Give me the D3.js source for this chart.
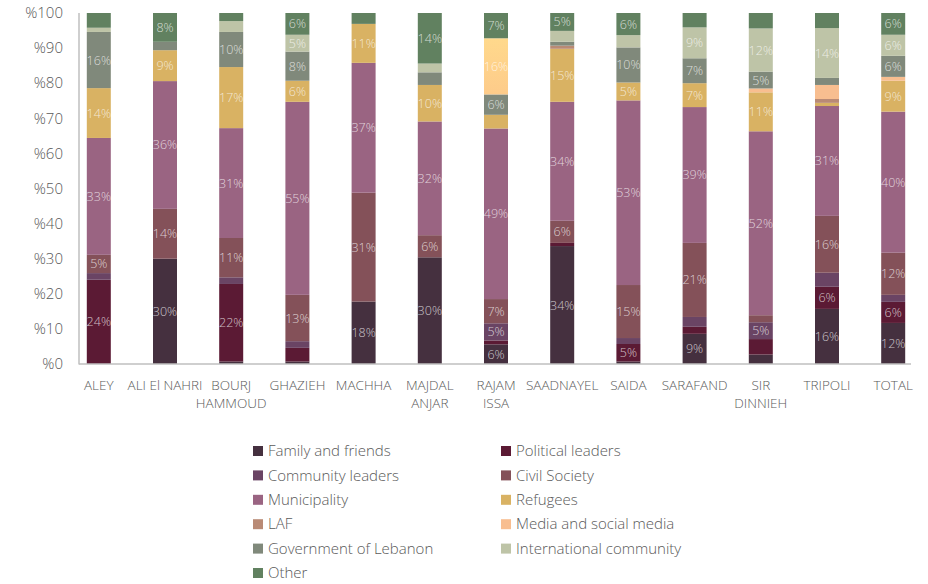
<!DOCTYPE html>
<html>
<head>
<meta charset="utf-8">
<script src="https://cdn.jsdelivr.net/npm/d3@7"></script>
<style>
  html, body { margin: 0; padding: 0; background: #fff; }
  svg { display: block; font-family: "Open Sans", "Noto Sans", sans-serif; }
</style>
</head>
<body>
<svg id="chart" width="928" height="584"></svg>
<script>
// ---------- data ----------
const categories = ["ALEY","ALI El NAHRI","BOURJ HAMMOUD","GHAZIEH","MACHHA","MAJDAL ANJAR","RAJAM ISSA","SAADNAYEL","SAIDA","SARAFAND","SIR DINNIEH","TRIPOLI","TOTAL"];
const categoryLines = [["ALEY"],["ALI El NAHRI"],["BOURJ","HAMMOUD"],["GHAZIEH"],["MACHHA"],["MAJDAL","ANJAR"],["RAJAM","ISSA"],["SAADNAYEL"],["SAIDA"],["SARAFAND"],["SIR","DINNIEH"],["TRIPOLI"],["TOTAL"]];

const seriesNames = ["Family and friends","Political leaders","Community leaders","Civil Society","Municipality","Refugees","LAF","Media and social media","Government of Lebanon","International community","Other"];

const familyFriends   = [0,   30,   0.7, 0.7, 17.8, 30.4, 5.6,  33.6, 0.7,  8.6,  2.7,  15.7, 11.7];
const politicalLeaders= [24,  0,    22.1,3.9, 0,    0,    1.1,  0.9,  5,    2,    4.4,  6.3,  6];
const communityLeaders= [1.9, 0,    1.9, 1.9, 0,    0,    4.9,  0,    1.7,  2.8,  4.8,  4,    2];
const civilSociety    = [5.2, 14.2, 11.2,13.2,31,   6.3,  6.9,  6.3,  15.1, 21.1, 2,    16.2, 12];
const municipality    = [33.3,36.4, 31.3,55,  37,   32.4, 48.6, 33.9, 52.6, 38.7, 52.4, 31.3, 40.2];
const refugees        = [14.2,8.8,  17.4,6,   11.1, 10.4, 3.9,  15.1, 5.1,  6.8,  11.1, 0.9,  8.8];
const laf             = [0,   0,    0,   0,   0,    0,    0,    0.9,  0,    0,    0,    1.1,  0];
const mediaSocial     = [0,   0,    0,   0,   0,    0,    0,    0,    0,    0,    1.1,  4,    1.1];
const government      = [16,  2.4,  10,  8.3, 0,    3.6,  5.8,  1.1,  10,   7.1,  4.8,  2,    6];
const international   = [1.2, 0,    3.1, 4.8, 0,    2.5,  16,   3.1,  3.5,  8.8,  12.3, 14.2, 6];
const other           = [4.2, 8.2,  2.3, 6.2, 3.1,  14.4, 7.2,  5.1,  6.3,  4.1,  4.4,  4.3,  6.2];

const yTicks = [0,10,20,30,40,50,60,70,80,90,100];

// ---------- build table ----------
const seriesValues = [familyFriends, politicalLeaders, communityLeaders, civilSociety, municipality, refugees, laf, mediaSocial, government, international, other];
const table = categories.map((c, i) => {
  const row = { category: c };
  seriesNames.forEach((s, j) => row[s] = seriesValues[j][i]);
  return row;
});

const colors = {
  "Family and friends": "#45303F",
  "Political leaders": "#5B1A34",
  "Community leaders": "#6A4464",
  "Civil Society": "#845159",
  "Municipality": "#9A6482",
  "Refugees": "#D9B263",
  "LAF": "#B98A75",
  "Media and social media": "#F8BE90",
  "Government of Lebanon": "#80897B",
  "International community": "#BEC4A7",
  "Other": "#618160"
};

const svg = d3.select("#chart");
const defs = svg.append("defs");
const grad = defs.append("linearGradient").attr("id","highlightGlow").attr("x1",0).attr("y1",0).attr("x2",0).attr("y2",1);
grad.append("stop").attr("offset","0%").attr("stop-color","#FFD98C");
grad.append("stop").attr("offset","100%").attr("stop-color","#FDCB8A");

// ---------- scales ----------
const step = 66.2;
const x0 = 98.8 - step / 2;
const x = d3.scaleBand()
  .domain(categories)
  .range([x0, x0 + step * categories.length])
  .paddingInner(1 - 24 / step)
  .paddingOuter((1 - 24 / step) / 2);

const y = d3.scaleLinear().domain([0, 100]).range([364, 13]);

const stack = d3.stack().keys(seriesNames);
const stacked = stack(table);

// ---------- bars ----------
const layers = svg.append("g").selectAll("g")
  .data(stacked).join("g")
  .attr("fill", d => colors[d.key]);

layers.selectAll("rect")
  .data(d => d.map(p => ({ key: d.key, p })))
  .join("rect")
  .attr("x", d => x(d.p.data.category))
  .attr("width", x.bandwidth())
  .attr("y", d => y(d.p[1]))
  .attr("height", d => Math.max(0, y(d.p[0]) - y(d.p[1])))
  .attr("fill", d => (d.key === "International community" && d.p.data.category === "RAJAM ISSA") ? "url(#highlightGlow)" : null);

// ---------- value labels ----------
const labelG = svg.append("g")
  .attr("font-size", 12.5)
  .attr("font-weight", 300)
  .attr("text-anchor", "middle")
  .attr("fill", "#ffffff")
  .attr("fill-opacity", 0.72);

stacked.forEach(layer => {
  layer.forEach(p => {
    const v = p[1] - p[0];
    if (v >= 4.5) {
      labelG.append("text")
        .attr("x", x(p.data.category) + x.bandwidth() / 2)
        .attr("y", (y(p[0]) + y(p[1])) / 2)
        .attr("dy", "0.36em")
        .text(Math.round(v) + "%");
    }
  });
});

// ---------- axes ----------
const axisColor = "#BFBFBF";
svg.append("line").attr("x1", 79).attr("x2", 79).attr("y1", y(100)).attr("y2", y(0) + 0.5)
  .attr("stroke", axisColor).attr("stroke-width", 1.5);
svg.append("line").attr("x1", 79).attr("x2", 911).attr("y1", y(0)).attr("y2", y(0))
  .attr("stroke", axisColor).attr("stroke-width", 1.5);

const yAxisG = svg.append("g")
  .attr("font-size", 15)
  .attr("font-weight", 300)
  .attr("fill", "#595959")
  .attr("text-anchor", "end");
yAxisG.selectAll("text").data(yTicks).join("text")
  .attr("x", 63)
  .attr("y", d => y(d))
  .attr("dy", "0.35em")
  .text(d => "%" + d);

const xAxisG = svg.append("g")
  .attr("font-size", 13.5)
  .attr("font-weight", 300)
  .attr("fill", "#595959")
  .attr("text-anchor", "middle");
categories.forEach((c, i) => {
  const t = xAxisG.append("text")
    .attr("x", x(c) + x.bandwidth() / 2)
    .attr("y", 390);
  categoryLines[i].forEach((line, k) => {
    t.append("tspan").attr("x", x(c) + x.bandwidth() / 2).attr("dy", k === 0 ? 0 : 18).text(line);
  });
});

// ---------- legend ----------
const legend = svg.append("g")
  .attr("font-size", 15)
  .attr("font-weight", 300)
  .attr("fill", "#595959");
seriesNames.forEach((s, i) => {
  const col = i % 2, row = Math.floor(i / 2);
  const lx = col === 0 ? 253 : 501;
  const ly = 451 + row * 24.4;
  legend.append("rect").attr("x", lx).attr("y", ly - 5).attr("width", 10).attr("height", 10).attr("fill", colors[s]);
  legend.append("text").attr("x", lx + 15).attr("y", ly).attr("dy", "0.35em").text(s);
});
</script>
</body>
</html>
